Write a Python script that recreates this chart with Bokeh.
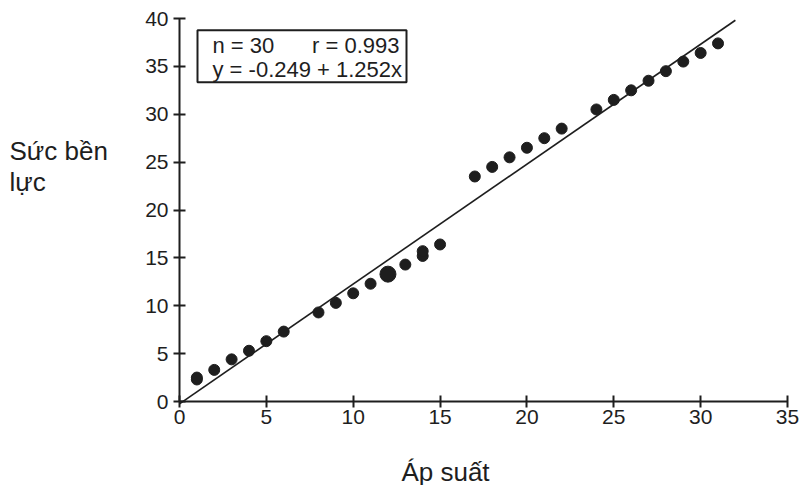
from bokeh.plotting import figure
from bokeh.models import Range1d, BoxAnnotation, Label, FixedTicker, ColumnDataSource
from bokeh.embed import file_html
from bokeh.resources import INLINE

# Data
pressure = [1, 1, 2, 3, 4, 5, 6, 8, 9, 10, 11, 12, 13, 14, 14, 15,
            17, 18, 19, 20, 21, 22, 24, 25, 26, 27, 28, 29, 30, 31]
strength = [2.3, 2.5, 3.3, 4.4, 5.3, 6.3, 7.3, 9.3, 10.3, 11.3, 12.3, 13.3, 14.3, 15.2, 15.7, 16.4,
            23.5, 24.5, 25.5, 26.5, 27.5, 28.5, 30.5, 31.5, 32.5, 33.5, 34.5, 35.5, 36.4, 37.4]
highlight_x = [12]
highlight_y = [13.3]
intercept = -0.249
slope = 1.252
fit_x = [0, 32]
fit_y = [intercept + slope * v for v in fit_x]
x_ticks = [0, 5, 10, 15, 20, 25, 30, 35]
y_ticks = [0, 5, 10, 15, 20, 25, 30, 35, 40]
x_lim = (0, 35)
y_lim = (0, 40)
stat_n = "n = 30"
stat_r = "r = 0.993"
stat_eq = "y = -0.249 + 1.252x"
x_title = "Áp suất"
y_title_lines = ["Sức bền", "lực"]

FONT = "Liberation Sans"
INK = "#1e1e1e"

W, H = 800, 485
# pixel geometry of the axes box inside the canvas
X0_PX, X1_PX = 179, 787
Y0_PX, Y1_PX = 401, 18
sx = (X1_PX - X0_PX) / (x_lim[1] - x_lim[0])
sy = (Y0_PX - Y1_PX) / (y_lim[1] - y_lim[0])
x_range = Range1d(x_lim[0] - X0_PX / sx, x_lim[0] + (W - X0_PX) / sx)
y_range = Range1d(y_lim[0] - (H - Y0_PX) / sy, y_lim[0] + Y0_PX / sy)


def dx(px):
    return x_lim[0] + (px - X0_PX) / sx


def dy(py):
    return y_lim[0] + (Y0_PX - py) / sy


p = figure(width=W, height=H, output_backend="svg", toolbar_location=None,
           x_range=x_range, y_range=y_range,
           min_border_left=0, min_border_right=0, min_border_top=0, min_border_bottom=0)
p.outline_line_color = None
p.grid.visible = False
p.background_fill_color = "white"
p.border_fill_color = "white"

for ax, ticks, loc, bnd in ((p.xaxis[0], x_ticks, y_lim[0], x_lim),
                            (p.yaxis[0], y_ticks, x_lim[0], y_lim)):
    ax.fixed_location = loc
    ax.bounds = bnd
    ax.ticker = FixedTicker(ticks=ticks)
    ax.minor_tick_line_color = None
    ax.major_tick_in = 6
    ax.major_tick_out = 6
    ax.axis_line_width = 2
    ax.major_tick_line_width = 2
    ax.axis_line_color = INK
    ax.major_tick_line_color = INK
    ax.major_label_text_font = FONT
    ax.major_label_text_font_size = "21px"
    ax.major_label_text_color = INK

p.xaxis.major_label_standoff = 2
p.yaxis.major_label_standoff = 5

p.line(fit_x, fit_y, line_color=INK, line_width=1.6)
src = ColumnDataSource(dict(x=pressure, y=strength))
p.scatter("x", "y", source=src, size=11, fill_color=INK, line_color=INK)
p.scatter(highlight_x, highlight_y, size=16, fill_color=INK, line_color=INK)

box = BoxAnnotation(left=dx(197), right=dx(406), top=dy(29.7), bottom=dy(81.7),
                    fill_color="white", fill_alpha=1.0, line_color=INK, line_alpha=1.0,
                    line_width=2)
p.add_layout(box)
for txt, px, py, al in ((stat_n, 212, 45, "left"), (stat_r, 399, 45, "right"),
                        (stat_eq, 212, 69, "left")):
    p.add_layout(Label(x=dx(px), y=dy(py), text=txt, text_align=al, text_baseline="middle",
                       text_font=FONT, text_font_size="22px", text_color=INK))

for txt, py in zip(y_title_lines, (150, 181)):
    p.add_layout(Label(x=dx(9), y=dy(py), text=txt, text_align="left",
                       text_baseline="alphabetic",
                       text_font=FONT, text_font_size="26px", text_color=INK))

p.add_layout(Label(x=dx(445), y=dy(471), text=x_title, text_align="center",
                   text_baseline="alphabetic",
                   text_font=FONT, text_font_size="26px", text_color=INK))

open("out.html", "w").write(file_html(p, INLINE))
